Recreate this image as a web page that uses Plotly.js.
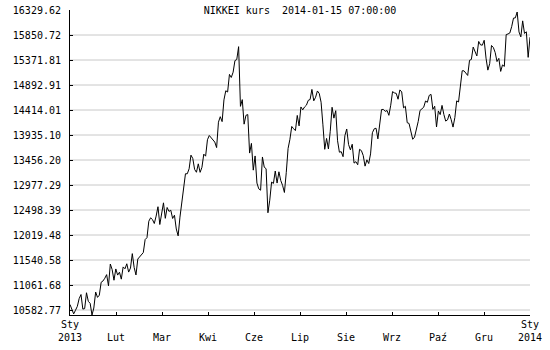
<!DOCTYPE html>
<html>
<head>
<meta charset="utf-8">
<script src="https://cdn.plot.ly/plotly-3.0.1.min.js"></script>
<style>html,body{margin:0;padding:0;background:#fff;}#chart{width:550px;height:350px;}</style>
</head>
<body>
<div id="chart"></div>
<script>
// NIKKEI daily closes, 2013-01-04 .. 2014-01-15
var jan13 = [10688.11,10599.01,10508.06,10578.57,10652.64,10801.57,10879.08,10600.44,10609.64,10913.30,10747.74,10709.93,10486.99,10620.87,10926.65,10824.31,10866.72,11113.95,11138.66];
var feb13 = [11191.34,11260.35,11046.92,11463.75,11357.07,11153.16,11369.12,11251.41,11307.28,11173.83,11407.87,11372.34,11468.28,11309.13,11385.94,11662.52,11398.81,11253.97,11559.36];
var mar13 = [11606.38,11652.29,11683.45,11932.27,11968.08,12283.62,12349.05,12314.81,12239.66,12381.19,12560.95,12220.63,12468.23,12635.69,12338.53,12546.46,12471.62,12493.79,12335.96,12397.91];
var apr13 = [12135.02,12003.43,12362.20,12634.54,12833.64,13192.59,13192.35,13288.13,13549.16,13485.14,13275.66,13221.44,13382.89,13220.07,13316.48,13568.37,13529.65,13843.46,13926.08,13884.13,13860.86];
var may13 = [13799.35,13694.04,14180.24,14285.69,14191.48,14607.54,14782.21,14758.22,15096.03,15037.24,15138.12,15360.81,15381.02,15627.26,14483.98,14612.45,14142.65,14311.98,14326.46,13589.03,13774.54];
var jun13 = [13261.82,13533.76,13014.87,12904.02,12877.53,13514.20,13317.62,13289.32,12445.38,12686.52,13033.12,13007.28,13245.22,13014.58,13230.13,13062.78,12969.34,12834.01,13213.55,13677.32];
var jul13 = [13852.50,14098.70,14055.18,14018.93,14309.97,14109.34,14472.58,14416.60,14472.90,14506.25,14599.12,14615.04,14808.50,14589.91,14658.04,14778.51,14731.28,14562.93,14129.98,13661.13,13869.82,13668.32];
var aug13 = [14005.77,14466.16,14258.04,14401.06,13824.94,13605.56,13615.19,13519.43,13924.36,14050.16,13752.94,13650.11,13758.13,13396.38,13424.33,13365.17,13660.55,13636.28,13542.37,13338.46,13459.19,13388.86];
var sep13 = [13572.92,13978.44,14053.97,14064.81,13860.81,14205.23,14423.36,14425.07,14387.27,14404.67,14311.67,14505.36,14766.17,14742.42,14732.40,14620.53,14799.12,14760.07,14455.80];
var oct13 = [14484.72,14170.49,14157.21,14024.31,13853.32,13894.61,14037.84,14194.71,14404.74,14441.53,14467.14,14586.51,14561.54,14693.57,14713.26,14426.05,14486.41,14088.19,14396.04,14325.96,14502.35,14327.94];
var nov13 = [14201.57,14225.37,14337.31,14228.44,14086.80,14269.84,14588.68,14567.16,14876.41,15165.92,15164.30,15126.56,15076.07,15365.60,15381.72,15619.13,15515.24,15449.63,15727.12,15661.87];
var dec13 = [15655.23,15749.66,15407.94,15177.49,15299.86,15650.21,15610.64,15515.42,15341.82,15403.11,15152.97,15277.54,15248.98,15859.22,15870.42,15889.33,16009.99,16174.44,16178.94,16291.31];
var jan14 = [15908.88,15814.37,16121.45,15880.33,15912.06,15422.40,15808.73];

var xTickText = ['Sty<br>2013','<br>Lut','<br>Mar','<br>Kwi','<br>Cze','<br>Lip','<br>Sie','<br>Wrz','<br>Paź','<br>Gru','Sty<br>2014'];
var yTickLabels = ['10582.77','11061.68','11540.58','12019.48','12498.39','12977.29','13456.20','13935.10','14414.01','14892.91','15371.81','15850.72','16329.62'];
var titleText = 'NIKKEI kurs&nbsp; 2014-01-15 07:00:00';

var values = [].concat(jan13,feb13,mar13,apr13,may13,jun13,jul13,aug13,sep13,oct13,nov13,dec13,jan14);
var idx = values.map(function(v,i){return i;});
var last = values.length - 1;
var xTickVals = xTickText.map(function(t,i){return i*last/(xTickText.length-1);});
var yTickVals = yTickLabels.map(Number);
var yMin = Math.min.apply(null, values);
var yMax = yTickVals[yTickVals.length-1];

var shapes = yTickVals.slice(0, yTickVals.length-1).map(function(v){
  return {type:'line', xref:'paper', x0:0, x1:1, yref:'y', y0:v, y1:v,
          line:{color:'#c8c8c8', width:1}, layer:'below'};
});

var font = {family:'DejaVu Sans Mono', size:10, color:'#000'};

Plotly.newPlot('chart', [{
  x: idx, y: values, type:'scatter', mode:'lines',
  line:{color:'#000', width:1}, hoverinfo:'skip'
}], {
  width:550, height:350,
  margin:{l:70, r:20, t:10, b:35},
  paper_bgcolor:'#fff', plot_bgcolor:'#fff',
  font: font,
  showlegend:false,
  title:{text:titleText, font:font, x:300/550, xanchor:'center', xref:'container', y:1-10/350, yanchor:'middle', yref:'container'},
  xaxis:{range:[0,last], tickmode:'array', tickvals:xTickVals, ticktext:xTickText,
         showline:true, linecolor:'#000', linewidth:1, ticks:'inside', ticklen:3, tickcolor:'#000',
         showgrid:false, zeroline:false, tickfont:font, tickangle:0},
  yaxis:{range:[yMin,yMax], tickmode:'array', tickvals:yTickVals, ticktext:yTickLabels,
         showline:true, linecolor:'#000', linewidth:1, ticks:'inside', ticklen:3, tickcolor:'#000',
         showgrid:false, zeroline:false, tickfont:font, ticklabelstandoff:6},
  shapes: shapes
}, {staticPlot:true, displayModeBar:false});
</script>
</body>
</html>
